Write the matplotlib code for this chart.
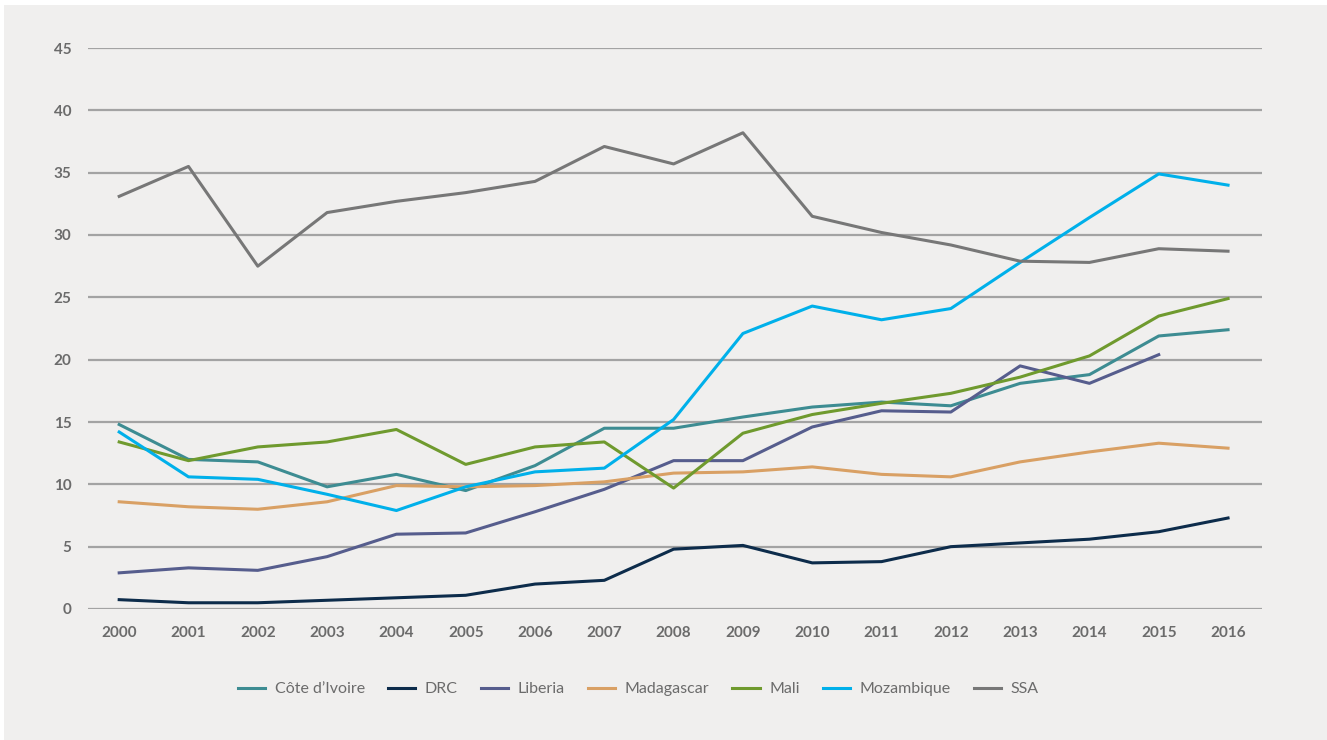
import matplotlib.pyplot as plt
import matplotlib.patches as mpatches
import numpy as np

years = list(range(2000, 2017))

cote_divoire = [14.8, 12.0, 11.8, 9.8, 10.8, 9.5, 11.5, 14.5, 14.5, 15.4, 16.2, 16.6, 16.3, 18.1, 18.8, 21.9, 22.4]
drc = [0.75, 0.5, 0.5, 0.7, 0.9, 1.1, 2.0, 2.3, 4.8, 5.1, 3.7, 3.8, 5.0, 5.3, 5.6, 6.2, 7.3]
liberia = [2.9, 3.3, 3.1, 4.2, 6.0, 6.1, 7.8, 9.6, 11.9, 11.9, 14.6, 15.9, 15.8, 19.5, 18.1, 20.4, np.nan]
madagascar = [8.6, 8.2, 8.0, 8.6, 9.9, 9.8, 9.9, 10.2, 10.9, 11.0, 11.4, 10.8, 10.6, 11.8, 12.6, 13.3, 12.9]
mali = [13.4, 11.9, 13.0, 13.4, 14.4, 11.6, 13.0, 13.4, 9.7, 14.1, 15.6, 16.5, 17.3, 18.6, 20.3, 23.5, 24.9]
mozambique = [14.2, 10.6, 10.4, 9.2, 7.9, 9.8, 11.0, 11.3, 15.2, 22.1, 24.3, 23.2, 24.1, 27.8, 31.4, 34.9, 34.0]
ssa = [33.1, 35.5, 27.5, 31.8, 32.7, 33.4, 34.3, 37.1, 35.7, 38.2, 31.5, 30.2, 29.2, 27.9, 27.8, 28.9, 28.7]

series_names = ["Côte d’Ivoire", "DRC", "Liberia", "Madagascar", "Mali", "Mozambique", "SSA"]
series_values = [cote_divoire, drc, liberia, madagascar, mali, mozambique, ssa]
series_colors = ["#3d8c92", "#0d2c4b", "#565d8d", "#d9a064", "#6f9a2e", "#00b0ea", "#777777"]

plt.rcParams['font.family'] = ['Lato', 'DejaVu Sans']

bg = "#f0efee"
fig = plt.figure(figsize=(13.27, 7.4), dpi=100)
fig.patch.set_facecolor("white")
fig.patches.append(mpatches.Rectangle((4 / 1327, 0), 1, 735 / 740, transform=fig.transFigure,
                                      facecolor=bg, edgecolor="none", zorder=-10))

ax = fig.add_axes([88 / 1327, 1 - 609 / 740, (1262 - 88) / 1327, (609 - 48) / 740])
ax.patch.set_alpha(0)

x = np.arange(len(years))
for name, vals, col in zip(series_names, series_values, series_colors):
    ax.plot(x, vals, color=col, lw=2.2, label=name, zorder=3, clip_on=False)

ax.set_xlim(-0.45, 16.49)
ax.set_ylim(0, 45)
ax.set_yticks(range(0, 50, 5))
ax.set_xticks(x)
ax.set_xticklabels([str(y) for y in years])
ax.grid(axis='y', color="#a3a3a3", lw=1.6, zorder=0)
ax.set_axisbelow(True)
for s in ax.spines.values():
    s.set_visible(False)
ax.tick_params(length=0, labelsize=11, labelcolor="#6b6b6b")
ax.tick_params(axis='y', pad=12)
ax.tick_params(axis='x', pad=12)
for lbl in ax.get_xticklabels() + ax.get_yticklabels():
    lbl.set_fontweight("bold")

leg = fig.legend(loc="center", bbox_to_anchor=(0.481, 1 - 689 / 740), ncol=7, frameon=False,
                 fontsize=11.5, handlelength=1.7, handletextpad=0.6, columnspacing=1.45)
for t in leg.get_texts():
    t.set_color("#6b6b6b")

fig.savefig("out.png", dpi=100, facecolor=fig.get_facecolor())
